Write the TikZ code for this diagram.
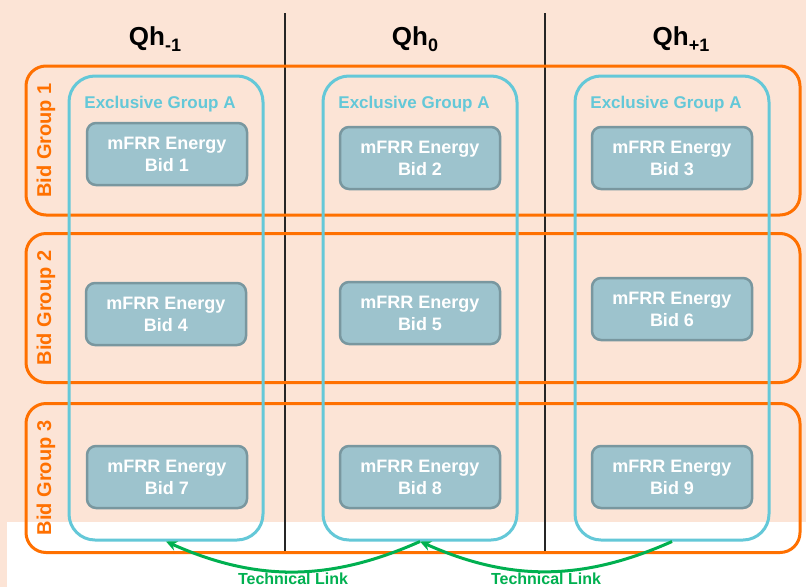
\documentclass[tikz,border=0pt]{standalone}
\usepackage{fontspec}
\setmainfont{Liberation Sans}
\usetikzlibrary{arrows.meta}
\definecolor{peach}{RGB}{252,228,214}
\definecolor{bidorange}{RGB}{255,112,0}
\definecolor{excyan}{RGB}{100,200,216}
\definecolor{bidfill}{RGB}{157,195,205}
\definecolor{bidline}{RGB}{121,151,159}
\definecolor{linkgreen}{RGB}{0,176,80}

\begin{document}
\begin{tikzpicture}[x=1pt,y=-1pt,every node/.style={align=center,font=\bfseries},
    header/.style={anchor=base,font=\fontsize{26}{26}\selectfont\bfseries},
    bidgroup/.style={draw=bidorange,line width=3pt,rounded corners=20pt,minimum width=774pt,minimum height=149pt},
    grouplabel/.style={text=bidorange,rotate=90,font=\fontsize{20}{20}\selectfont\bfseries},
    exgroup/.style={draw=excyan,line width=3pt,rounded corners=26pt,minimum width=194pt,minimum height=464pt},
    exlabel/.style={text=excyan,anchor=base,font=\fontsize{17}{17}\selectfont\bfseries},
    bid/.style={draw=bidline,fill=bidfill,line width=2.5pt,rounded corners=9pt,minimum width=160pt,minimum height=62pt,text=white,font=\fontsize{18}{22}\selectfont\bfseries},
    link/.style={draw=linkgreen,line width=3pt,-{Stealth[length=11pt,width=10pt]}},
    linklabel/.style={text=linkgreen,anchor=base,inner sep=0pt,font=\fontsize{16}{16}\selectfont\bfseries}]
  \useasboundingbox (0,0) rectangle (806,587);
  \fill[peach] (0,0) rectangle (806,587);
  \fill[white] (7,522) rectangle (806,587);
  % quarter hours
  \node[header] (qhm) at (155,45) {Qh\raisebox{-6pt}{\fontsize{18}{18}\selectfont -1}};
  \node[header] (qhz) at (415,45) {Qh\raisebox{-6pt}{\fontsize{18}{18}\selectfont 0}};
  \node[header] (qhp) at (681,45) {Qh\raisebox{-6pt}{\fontsize{18}{18}\selectfont +1}};
  \draw[line width=1.5pt,black!85] (285,13) -- (285,552);
  \draw[line width=1.5pt,black!85] (545,13) -- (545,552);
  % bid groups
  \node[bidgroup] (bg1) at (413,140.5) {};
  \node[bidgroup] (bg2) at (413,308) {};
  \node[bidgroup] (bg3) at (413,478) {};
  \node[grouplabel] (bgl1) at (46,140.5) {Bid Group 1};
  \node[grouplabel] (bgl2) at (46,308) {Bid Group 2};
  \node[grouplabel] (bgl3) at (46,478) {Bid Group 3};
  % exclusive groups
  \node[exgroup] (eg1) at (166,308) {};
  \node[exgroup] (eg2) at (420,308) {};
  \node[exgroup] (eg3) at (672,308) {};
  \node[exlabel] (egl1) at (160,108.5) {Exclusive Group A};
  \node[exlabel] (egl2) at (414,108.5) {Exclusive Group A};
  \node[exlabel] (egl3) at (666,108.5) {Exclusive Group A};
  % bids
  \node[bid] (b1) at (167,154) {mFRR Energy\\Bid 1};
  \node[bid] (b2) at (420,158) {mFRR Energy\\Bid 2};
  \node[bid] (b3) at (672,158) {mFRR Energy\\Bid 3};
  \node[bid] (b4) at (166,314) {mFRR Energy\\Bid 4};
  \node[bid] (b5) at (420,313) {mFRR Energy\\Bid 5};
  \node[bid] (b6) at (672,309) {mFRR Energy\\Bid 6};
  \node[bid] (b7) at (167,477) {mFRR Energy\\Bid 7};
  \node[bid] (b8) at (420,477) {mFRR Energy\\Bid 8};
  \node[bid] (b9) at (672,477) {mFRR Energy\\Bid 9};
  % technical links
  \draw[link] (eg2.south) to[bend left=24] (eg1.south);
  \draw[link] (eg3.south) to[bend left=24] (eg2.south);
  \node[linklabel] (tl1) at (293,584) {Technical Link};
  \node[linklabel] (tl2) at (546,584) {Technical Link};
\end{tikzpicture}
\end{document}
